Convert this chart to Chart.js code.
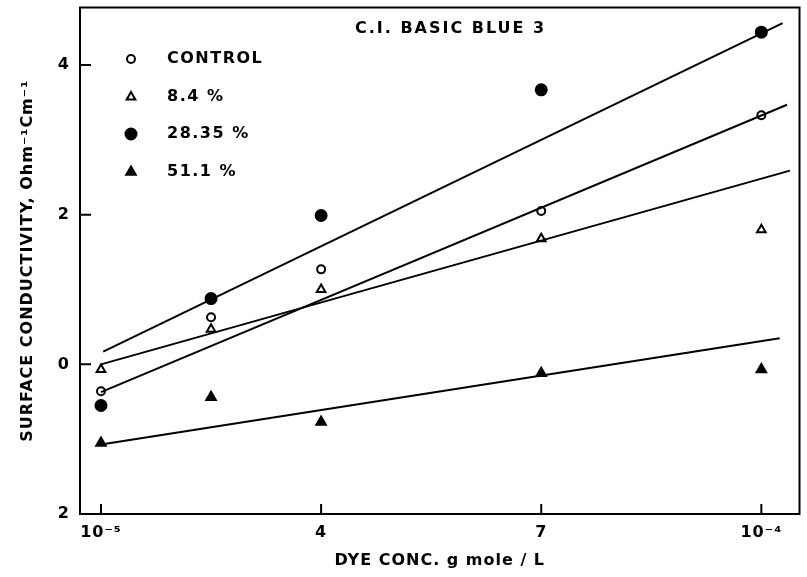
<!DOCTYPE html>
<html>
<head>
<meta charset="utf-8">
<script src="https://cdn.jsdelivr.net/npm/chart.js@4.4.1/dist/chart.umd.min.js"></script>
<style>
  html, body { margin: 0; padding: 0; background: #fff; }
  #wrap { width: 807px; height: 577px; }
</style>
</head>
<body>
<div id="wrap"><canvas id="dyeChart" width="807" height="577"></canvas></div>
<script>
// dye concentration in units of 10^-5 g mole/L
const concentrations = [1, 2.5, 4, 7, 10];

const controlPoints = [-0.36, 0.63, 1.27, 2.05, 3.33];
const pct84Points   = [-0.07, 0.47, 1.00, 1.68, 1.80];
const pct2835Points = [-0.55, 0.88, 1.99, 3.67, 4.44];
const pct511Points  = [-1.05, -0.44, -0.77, -0.12, -0.07];

// fitted straight lines: [x, y] at each end
const controlFit = [[1, -0.37], [10.35, 3.47]];
const pct84Fit   = [[1, 0.00], [10.39, 2.59]];
const pct2835Fit = [[1.03, 0.17], [10.29, 4.56]];
const pct511Fit  = [[1, -1.07], [10.25, 0.35]];

const seriesLabels = ['CONTROL', '8.4 %', '28.35 %', '51.1 %'];

const xTickValues = [1, 4, 7, 10];
const xTickLabels = ['10\u207B\u2075', '4', '7', '10\u207B\u2074'];
const yTickValues = [-2, 0, 2, 4];
const yTickLabels = ['2', '0', '2', '4'];

const FONT = 'DejaVu Sans';

function toXY(xs, ys) {
    return xs.map((x, i) => ({ x: x, y: ys[i] }));
}
function fitLine(pts) {
    return pts.map(p => ({ x: p[0], y: p[1] }));
}

// marker styles per series
const markers = [
    { pointStyle: 'circle',   radius: 4,   fill: '#fff' },
    { pointStyle: 'triangle', radius: 5,   fill: '#fff' },
    { pointStyle: 'circle',   radius: 5.5, fill: '#000' },
    { pointStyle: 'triangle', radius: 5.5, fill: '#000' }
];

const pointSeries = [controlPoints, pct84Points, pct2835Points, pct511Points];
const fits = [controlFit, pct84Fit, pct2835Fit, pct511Fit];

const datasets = [];
fits.forEach((f, i) => {
    datasets.push({
        label: seriesLabels[i] + ' fit',
        data: fitLine(f),
        showLine: true,
        borderColor: '#000',
        borderWidth: 2,
        pointRadius: 0,
        fill: false
    });
});
pointSeries.forEach((vals, i) => {
    datasets.push({
        label: seriesLabels[i],
        data: toXY(concentrations, vals),
        showLine: false,
        pointStyle: markers[i].pointStyle,
        pointRadius: markers[i].radius,
        pointBackgroundColor: markers[i].fill,
        pointBorderColor: '#000',
        pointBorderWidth: 2
    });
});

// no extra room for end tick labels, keep the plot box fixed
function noPad(scale) {
    scale.paddingTop = 0;
    scale.paddingBottom = 0;
    scale.paddingLeft = 0;
    scale.paddingRight = 0;
}

// frame + inward tick marks
const framePlugin = {
    id: 'frame',
    beforeDraw(chart) {
        chart.ctx.letterSpacing = '1px';
    },
    afterDraw(chart) {
        const { ctx, chartArea: a, scales } = chart;
        ctx.save();
        ctx.strokeStyle = '#000';
        ctx.lineWidth = 2;
        ctx.strokeRect(a.left, a.top, a.right - a.left, a.bottom - a.top);
        ctx.beginPath();
        xTickValues.forEach(v => {
            const px = scales.x.getPixelForValue(v);
            ctx.moveTo(px, a.bottom);
            ctx.lineTo(px, a.bottom - 10);
        });
        yTickValues.forEach(v => {
            const py = scales.y.getPixelForValue(v);
            ctx.moveTo(a.left, py);
            ctx.lineTo(a.left + 11, py);
        });
        ctx.stroke();
        ctx.restore();
    }
};

// title and legend drawn inside the plot
const insetPlugin = {
    id: 'inset',
    afterDraw(chart) {
        const ctx = chart.ctx;
        ctx.save();
        ctx.fillStyle = '#000';
        ctx.letterSpacing = '2px';
        ctx.font = 'bold 16px "' + FONT + '"';
        ctx.textBaseline = 'middle';
        ctx.textAlign = 'left';
        ctx.fillText('C.I. BASIC BLUE 3', 355, 29);

        ctx.letterSpacing = '1.5px';
        const rowY = [59, 97, 134, 172];
        seriesLabels.forEach((lab, i) => {
            const m = markers[i];
            ctx.fillStyle = m.fill;
            ctx.strokeStyle = '#000';
            ctx.lineWidth = 2;
            Chart.helpers.drawPoint(ctx, {
                pointStyle: m.pointStyle,
                radius: m.radius,
                borderWidth: 2,
                rotation: 0
            }, 131, rowY[i]);
            ctx.fillStyle = '#000';
            ctx.fillText(lab, 167, rowY[i]);
        });
        ctx.restore();
    }
};

new Chart(document.getElementById('dyeChart'), {
    type: 'scatter',
    data: { datasets: datasets },
    plugins: [framePlugin, insetPlugin],
    options: {
        responsive: false,
        devicePixelRatio: 1,
        animation: false,
        layout: { padding: { left: 0, right: 7, top: 5, bottom: 0 } },
        plugins: {
            legend: { display: false },
            tooltip: { enabled: false }
        },
        scales: {
            x: {
                type: 'linear',
                min: 0.714,
                max: 10.52,
                afterFit(scale) { scale.height = 63; noPad(scale); },
                afterBuildTicks(scale) {
                    scale.ticks = xTickValues.map(v => ({ value: v }));
                },
                grid: { display: false, drawTicks: false },
                border: { display: false },
                ticks: {
                    autoSkip: false,
                    maxRotation: 0,
                    padding: 9,
                    color: '#000',
                    font: { family: FONT, size: 16, weight: 'bold' },
                    callback: (value, index) => xTickLabels[index]
                },
                title: {
                    display: true,
                    text: 'DYE CONC. g mole / L',
                    color: '#000',
                    font: { family: FONT, size: 16, weight: 'bold' },
                    padding: { top: 0, bottom: 7 }
                }
            },
            y: {
                type: 'linear',
                min: -2,
                max: 4.77,
                afterFit(scale) { scale.width = 80; noPad(scale); },
                afterBuildTicks(scale) {
                    scale.ticks = yTickValues.map(v => ({ value: v }));
                },
                grid: { display: false, drawTicks: false },
                border: { display: false },
                ticks: {
                    autoSkip: false,
                    padding: 10,
                    color: '#000',
                    font: { family: FONT, size: 16, weight: 'bold' },
                    callback: (value, index) => yTickLabels[index]
                },
                title: {
                    display: true,
                    text: 'SURFACE CONDUCTIVITY, Ohm\u207B\u00B9Cm\u207B\u00B9',
                    color: '#000',
                    font: { family: FONT, size: 16, weight: 'bold' },
                    padding: { top: 18, bottom: 0 }
                }
            }
        }
    }
});
</script>
</body>
</html>
